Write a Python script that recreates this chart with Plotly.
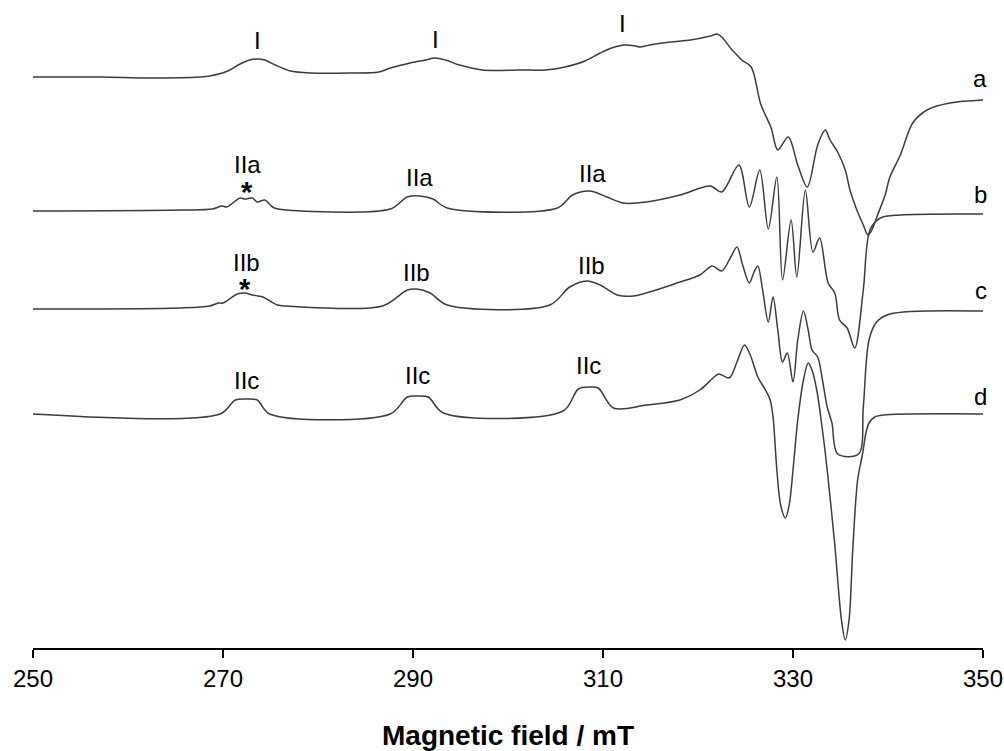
import plotly.graph_objects as go

# ---- data (magnetic field in mT, signal in arbitrary units relative to each baseline) ----
field_a = [250.0, 257.1, 262.3, 267.6, 268.6, 270.5, 271.8, 272.8, 273.6, 274.4, 275.5, 277.1, 279.2,
           283.4, 286.4, 287.6, 289.7, 291.3, 292.3, 293.4, 294.9, 297.3, 301.3, 303.9, 306.0, 308.1,
           309.7, 310.9, 312.3, 313.4, 313.9, 314.9, 317.1, 319.2, 321.3, 322.0, 322.5, 323.5, 324.1,
           324.6, 325.6, 326.6, 327.7, 328.4, 329.5, 330.5, 331.5, 332.6, 333.4, 333.9, 334.7, 335.5,
           336.0, 336.6, 337.4, 337.9, 338.3, 338.9, 339.7, 340.2, 341.3, 342.6, 344.1, 346.5, 350.0]
signal_a = [0, 0, -1, 0, 1, 6, 13, 17, 18, 17, 12, 6, 4,
            4, 5, 9, 14, 17, 19, 17, 12, 7, 7, 7, 10, 16,
            24, 29, 32, 31, 30, 32, 35, 37, 41, 43, 40, 28, 22,
            17, 10, -27, -51, -73, -60, -88, -110, -68, -53, -63, -75, -93,
            -113, -130, -148, -158, -153, -138, -118, -100, -78, -46, -33, -26, -23]

field_b = [250.0, 265.5, 268.9, 269.9, 270.4, 271.8, 272.3, 273.1, 273.6, 274.4, 275.2, 275.8, 287.6,
           289.4, 290.7, 292.1, 293.6, 305.2, 306.8, 308.6, 310.4, 312.1, 314.6, 318.1, 321.3, 322.5,
           324.3, 325.4, 326.5, 327.4, 328.3, 328.9, 329.8, 330.4, 331.3, 332.1, 332.8, 333.7, 334.4,
           334.9, 335.7, 336.5, 337.4, 338.1, 339.2, 341.3, 350.0]
signal_b = [0, 1, 2, 5, 4, 13, 12, 13, 9, 11, 4, 2, 2,
            14, 15, 12, 3, 3, 16, 20, 14, 8, 9, 16, 25, 19,
            46, 4, 41, -18, 34, -69, -9, -66, 21, -41, -27, -72, -82,
            -109, -117, -137, -79, -19, -7, -4, -3]

field_c = [250.0, 265.5, 268.6, 269.5, 270.0, 271.5, 272.3, 273.1, 273.7, 274.2, 275.7, 276.7, 286.8,
           289.4, 290.4, 291.8, 293.6, 304.4, 306.5, 308.3, 309.7, 311.5, 313.2, 318.1, 320.2, 321.5,
           322.5, 323.4, 324.1, 324.7, 325.4, 325.9, 326.3, 326.8, 327.4, 327.9, 328.4, 328.9, 329.4,
           330.0, 330.5, 331.1, 331.6, 332.0, 332.6, 333.1, 333.6, 334.1, 334.7, 336.9, 337.4, 338.0,
           338.8, 340.2, 350.0]
signal_c = [0, 1, 3, 6, 6, 15, 16, 14, 13, 12, 4, 3, 3,
            19, 20, 16, 4, 4, 22, 28, 24, 14, 13, 27, 34, 43,
            38, 51, 62, 44, 26, 37, 43, 19, -13, 12, -21, -53, -44,
            -73, -31, -2, -21, -41, -48, -71, -98, -114, -145, -145, -98, -31,
            -13, -5, -2]

field_d = [250.0, 269.7, 271.3, 272.5, 273.6, 274.9, 287.6, 289.4, 290.4, 291.6, 293.2, 305.8, 307.4,
           308.6, 309.5, 311.1, 314.6, 318.1, 320.2, 321.7, 322.2, 323.3, 324.1, 324.9, 325.5, 326.3,
           327.1, 327.6, 327.9, 328.3, 328.7, 329.2, 329.6, 330.0, 330.5, 331.1, 331.6, 332.0, 332.5,
           333.1, 333.6, 334.4, 335.1, 335.5, 335.9, 336.3, 336.8, 337.3, 337.7, 338.0, 338.6, 339.5,
           350.0]
signal_d = [0, 0, 14, 15, 14, 0, 0, 17, 18, 17, 1, 3, 25,
            27, 26, 6, 9, 14, 24, 37, 40, 36, 52, 69, 59, 37,
            24, 14, -3, -56, -91, -104, -91, -56, -6, 34, 51, 44, 24,
            -16, -56, -131, -206, -226, -206, -134, -66, -41, -18, -9, -3, -1,
            0]

spectrum_names = ["a", "b", "c", "d"]
spectrum_offsets = [571, 437, 339, 234]

# peak labels: (text, field, level)
peak_labels = [
    ("I", 273.6, 608), ("I", 292.4, 609), ("I", 312.0, 625),
    ("IIa", 272.6, 484), ("IIa", 290.7, 471), ("IIa", 308.9, 475),
    ("IIb", 272.5, 386), ("IIb", 290.4, 376), ("IIb", 308.8, 383),
    ("IIc", 272.5, 268), ("IIc", 290.5, 273), ("IIc", 308.5, 283),
]
star_labels = [(272.5, 456), (272.3, 359)]
trace_label_pos = [(349.7, 570), (349.7, 454), (349.8, 358), (349.7, 252)]

x_ticks = [250, 270, 290, 310, 330, 350]

FONT = "Arial, Liberation Sans, sans-serif"

fig = go.Figure()
series = [(field_a, signal_a), (field_b, signal_b), (field_c, signal_c), (field_d, signal_d)]
for (fx, sy), off, name in zip(series, spectrum_offsets, spectrum_names):
    fig.add_trace(go.Scatter(
        x=fx, y=[v + off for v in sy], mode="lines", name=name,
        line=dict(color="#3c3c3c", width=1.5, shape="spline", smoothing=0.9),
        showlegend=False, hoverinfo="skip"))

annotations = []
for txt, fx, lv in peak_labels:
    annotations.append(dict(x=fx, y=lv, text=txt, showarrow=False, xanchor="center", yanchor="middle",
                            font=dict(size=24, color="black", family=FONT)))
for fx, lv in star_labels:
    annotations.append(dict(x=fx, y=lv, text="<b>*</b>", showarrow=False, xanchor="center", yanchor="middle",
                            font=dict(size=29, color="black", family=FONT)))
for name, (fx, lv) in zip(spectrum_names, trace_label_pos):
    annotations.append(dict(x=fx, y=lv, text=name, showarrow=False, xanchor="center", yanchor="middle",
                            font=dict(size=24, color="black", family=FONT)))

fig.update_layout(
    width=1004, height=751,
    margin=dict(l=33, r=21, t=0, b=103),
    paper_bgcolor="white", plot_bgcolor="white",
    annotations=annotations,
    font=dict(family=FONT, color="black"),
)
fig.update_xaxes(
    range=[250, 350], tickvals=x_ticks, ticktext=[str(t) for t in x_ticks],
    showline=True, linecolor="black", linewidth=1.5, ticks="outside", ticklen=8,
    tickwidth=1.5, tickcolor="black", showgrid=False, zeroline=False, automargin=False,
    tickfont=dict(size=24, color="black", family=FONT), ticklabelstandoff=0,
    title=dict(text="<b>Magnetic field / mT</b>", font=dict(size=28, color="black", family=FONT), standoff=38),
)
fig.update_yaxes(range=[0, 648], visible=False, showgrid=False, zeroline=False)

fig.write_html("out.html")
